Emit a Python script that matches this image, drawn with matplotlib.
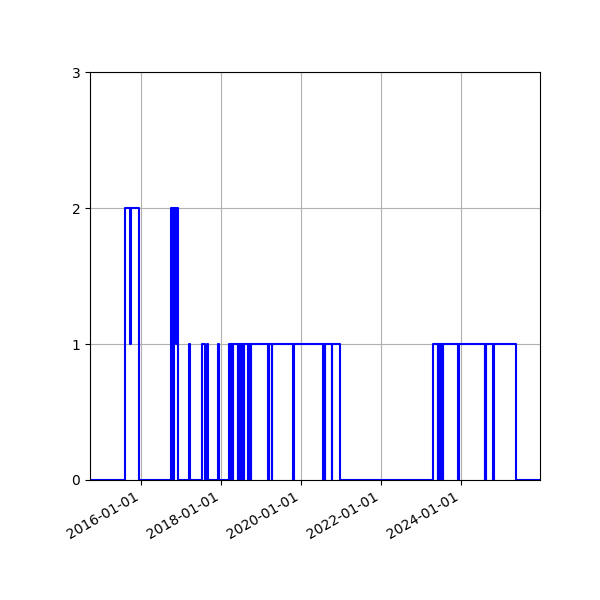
import matplotlib
matplotlib.use('Agg')
import matplotlib.pyplot as plt
import matplotlib.dates as mdates
import pandas as pd

# step changes of the count (value holds until next date)
change_dates = [
    "2014-09-22", "2015-08-05", "2015-09-23", "2015-09-27", "2015-12-14",
    "2016-10-05", "2016-10-19", "2016-10-24", "2016-11-16", "2016-11-20", "2016-12-07",
    "2017-03-14", "2017-03-23",
    "2017-07-15", "2017-08-03",
    "2017-08-21", "2017-09-04",
    "2017-12-04", "2017-12-13",
    "2018-03-14",
    "2018-03-29", "2018-04-01", "2018-04-18", "2018-04-21",
    "2018-06-04", "2018-06-07", "2018-06-17", "2018-06-20", "2018-07-01", "2018-07-04",
    "2018-07-15", "2018-07-18", "2018-07-27", "2018-07-30",
    "2018-09-08", "2018-09-11", "2018-09-27", "2018-09-30",
    "2019-03-08", "2019-03-11", "2019-04-08", "2019-04-11",
    "2019-10-23", "2019-10-25",
    "2020-07-23", "2020-07-26", "2020-08-07", "2020-08-10",
    "2020-10-07", "2020-10-10",
    "2020-12-22",
    "2023-04-20",
    "2023-06-03", "2023-06-06", "2023-06-12", "2023-06-15", "2023-06-21", "2023-06-24",
    "2023-06-30", "2023-07-03", "2023-07-09", "2023-07-12", "2023-07-18", "2023-07-21",
    "2023-12-07", "2023-12-09",
    "2024-08-05", "2024-08-08", "2024-08-13", "2024-08-15",
    "2024-10-22", "2024-10-24",
    "2025-05-14",
    "2025-12-22",
]
counts = [
    0, 2, 1, 2, 0,
    2, 0, 2, 1, 2, 0,
    1, 0,
    1, 0,
    1, 0,
    1, 0,
    1,
    0, 1, 0, 1,
    0, 1, 0, 1, 0, 1,
    0, 1, 0, 1,
    0, 1, 0, 1,
    0, 1, 0, 1,
    0, 1,
    0, 1, 0, 1,
    0, 1,
    0,
    1,
    0, 1, 0, 1, 0, 1,
    0, 1, 0, 1, 0, 1,
    0, 1,
    0, 1, 0, 1,
    0, 1,
    0,
    0,
]

dates = pd.to_datetime(change_dates)

fig, ax = plt.subplots(figsize=(6, 6), dpi=100)
fig.subplots_adjust(left=0.15, right=0.9, top=0.88)

ax.step(dates, counts, where='post', color='blue')

ax.set_xlim(dates[0], dates[-1])
ax.set_ylim(0, 3)
ax.set_yticks([0, 1, 2, 3])
ax.xaxis.set_major_locator(mdates.YearLocator(2))
ax.xaxis.set_major_formatter(mdates.DateFormatter('%Y-%m-%d'))
ax.grid(True)
fig.autofmt_xdate()

plt.savefig('out.png', dpi=100)
